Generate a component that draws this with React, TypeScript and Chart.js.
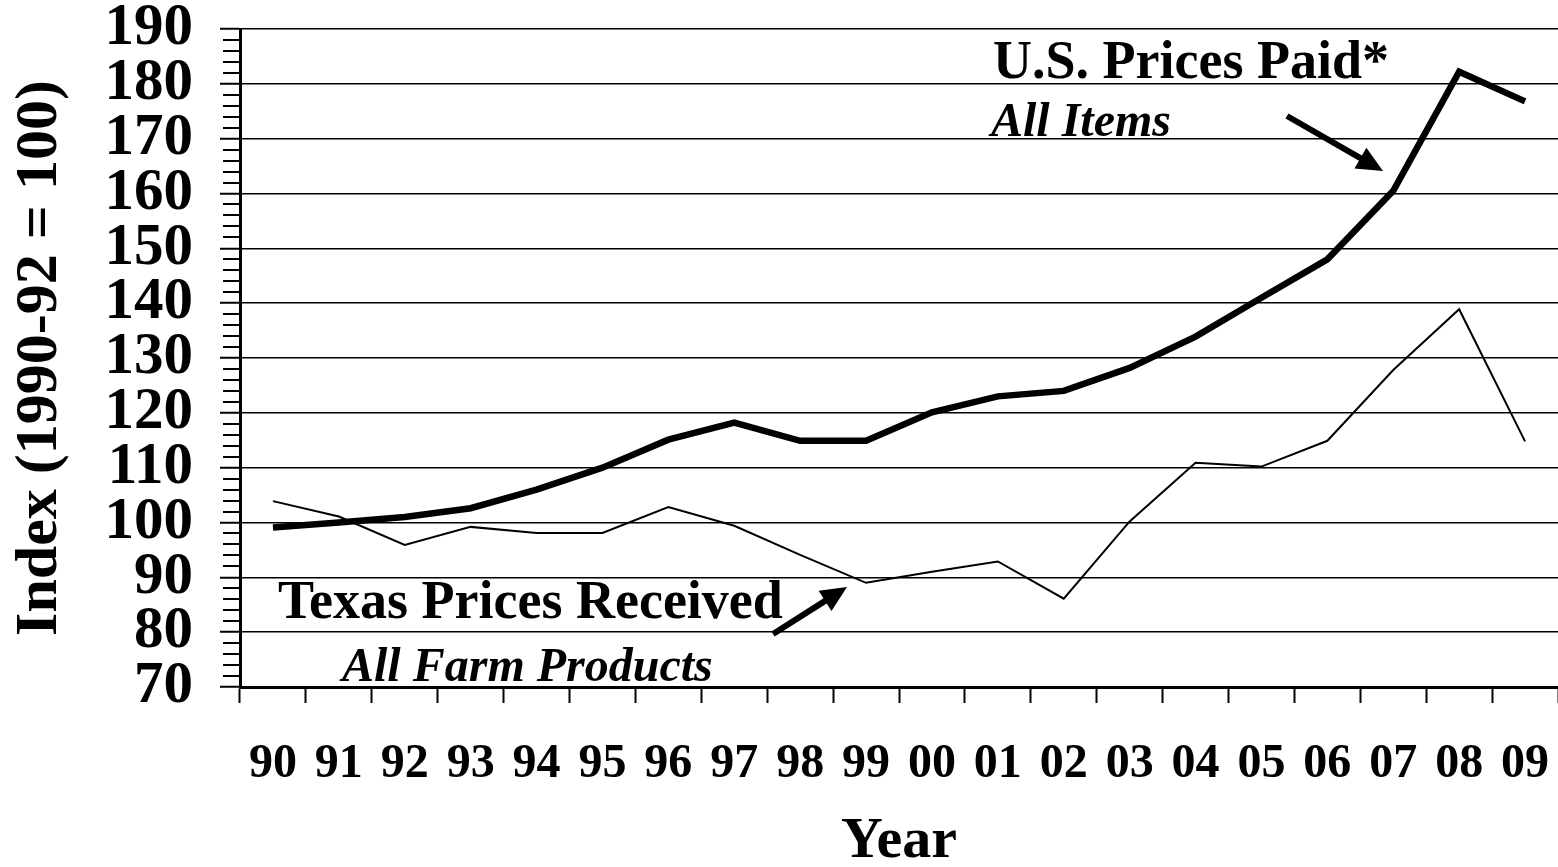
import React, { useEffect, useRef } from "react";
import { Chart, registerables } from "chart.js";

Chart.register(...registerables);

const years = ["90", "91", "92", "93", "94", "95", "96", "97", "98", "99", "00", "01", "02", "03", "04", "05", "06", "07", "08", "09"];
const usPricesPaid = [99.1, 100.0, 101.0, 102.6, 106.0, 110.0, 115.1, 118.2, 114.9, 114.9, 120.1, 123.0, 124.0, 128.2, 133.9, 141.0, 148.0, 160.5, 182.2, 176.8];
const texasPricesReceived = [103.9, 101.1, 95.9, 99.2, 98.1, 98.1, 102.8, 99.4, 94.1, 89.0, 91.0, 92.9, 86.1, 100.2, 110.9, 110.2, 114.9, 127.8, 138.9, 114.8];
const yMin = 70;
const yMax = 190;
const yStep = 10;
const yMinorStep = 2;

const FONT = '"Liberation Serif", "Times New Roman", serif';

// annotation layout (pixels relative to chart area left/top)
const labels = [
  { text: "U.S. Prices Paid*", dx: 753, dy: 49, font: `bold 54px ${FONT}` },
  { text: "All Items", dx: 751, dy: 107, font: `italic bold 48px ${FONT}` },
  { text: "Texas Prices Received", dx: 38, dy: 589, font: `bold 54px ${FONT}` },
  { text: "All Farm Products", dx: 102, dy: 652, font: `italic bold 48px ${FONT}` },
];
const arrows = [
  { x1: 1047, y1: 87, x2: 1143, y2: 142 },
  { x1: 533, y1: 605, x2: 607, y2: 558 },
];

const overlayPlugin = {
  id: "overlay",
  afterDraw(chart: any) {
    const { ctx, chartArea, scales } = chart;
    const ys = scales.y;
    ctx.save();
    // minor ticks on y axis
    ctx.strokeStyle = "#000";
    ctx.fillStyle = "#000";
    ctx.lineWidth = 2;
    for (let v = yMin; v <= yMax; v += yMinorStep) {
      if (v % yStep === 0) continue;
      const py = Math.round(ys.getPixelForValue(v));
      ctx.beginPath();
      ctx.moveTo(chartArea.left - 17, py);
      ctx.lineTo(chartArea.left, py);
      ctx.stroke();
    }
    // annotation texts
    ctx.textAlign = "left";
    ctx.textBaseline = "alphabetic";
    labels.forEach((l) => {
      ctx.font = l.font;
      ctx.fillText(l.text, chartArea.left + l.dx, chartArea.top + l.dy);
    });
    // arrows
    arrows.forEach((a) => {
      const x1 = chartArea.left + a.x1, y1 = chartArea.top + a.y1;
      const x2 = chartArea.left + a.x2, y2 = chartArea.top + a.y2;
      const ang = Math.atan2(y2 - y1, x2 - x1);
      const hl = 26, hw = 12;
      const bx = x2 - hl * Math.cos(ang), by = y2 - hl * Math.sin(ang);
      ctx.lineWidth = 6;
      ctx.lineCap = "butt";
      ctx.beginPath();
      ctx.moveTo(x1, y1);
      ctx.lineTo(bx + 2 * Math.cos(ang), by + 2 * Math.sin(ang));
      ctx.stroke();
      ctx.beginPath();
      ctx.moveTo(x2, y2);
      ctx.lineTo(bx + hw * Math.sin(ang), by - hw * Math.cos(ang));
      ctx.lineTo(bx - hw * Math.sin(ang), by + hw * Math.cos(ang));
      ctx.closePath();
      ctx.fill();
    });
    ctx.restore();
  },
};

export default function App() {
  const ref = useRef<HTMLCanvasElement | null>(null);
  useEffect(() => {
    document.body.style.margin = "0";
    const canvas = ref.current!;
    const chart = new Chart(canvas, {
      type: "line",
      data: {
        labels: years,
        datasets: [
          {
            label: "U.S. Prices Paid* (All Items)",
            data: usPricesPaid,
            borderColor: "#000",
            borderWidth: 6.5,
            pointRadius: 0,
            tension: 0,
            fill: false,
          },
          {
            label: "Texas Prices Received (All Farm Products)",
            data: texasPricesReceived,
            borderColor: "#000",
            borderWidth: 2,
            pointRadius: 0,
            tension: 0,
            fill: false,
          },
        ],
      },
      options: {
        responsive: false,
        animation: false,
        layout: { padding: { left: 0, right: 0, top: 29, bottom: 0 } },
        plugins: { legend: { display: false }, tooltip: { enabled: false }, title: { display: false } },
        scales: {
          x: {
            type: "category",
            offset: true,
            ticks: {
              color: "#000",
              font: { family: FONT, size: 48, weight: "bold" },
              padding: 33,
              autoSkip: false,
              maxRotation: 0,
            },
            grid: {
              offset: true,
              drawOnChartArea: false,
              drawTicks: true,
              tickLength: 16,
              tickColor: "#000",
              tickWidth: 2,
            },
            border: { display: true, color: "#000", width: 3 },
            title: {
              display: true,
              text: "Year",
              color: "#000",
              font: { family: FONT, size: 58, weight: "bold", lineHeight: 0.85 },
              padding: { top: 0, bottom: 0 },
            },
            afterFit: (s: any) => {
              s.height = 180;
              s.paddingLeft = 0;
              s.paddingRight = 0;
            },
          },
          y: {
            min: yMin,
            max: yMax,
            ticks: {
              stepSize: yStep,
              autoSkip: false,
              color: "#000",
              padding: 27,
              font: { family: FONT, size: 59, weight: "bold", lineHeight: 1 },
            },
            grid: {
              color: "#000",
              lineWidth: 1.5,
              drawTicks: true,
              tickLength: 20,
              tickColor: "#000",
              tickWidth: 2,
            },
            border: { display: true, color: "#000", width: 3 },
            title: {
              display: true,
              text: "Index (1990-92 = 100)",
              color: "#000",
              font: { family: FONT, size: 60, weight: "bold" },
              padding: { top: 4, bottom: 0 },
            },
            afterFit: (s: any) => {
              s.width = 240;
              s.paddingTop = 0;
              s.paddingBottom = 0;
            },
          },
        },
      },
      plugins: [overlayPlugin],
    });
    return () => chart.destroy();
  }, []);
  return <canvas ref={ref} width={1558} height={867} style={{ display: "block" }} />;
}
